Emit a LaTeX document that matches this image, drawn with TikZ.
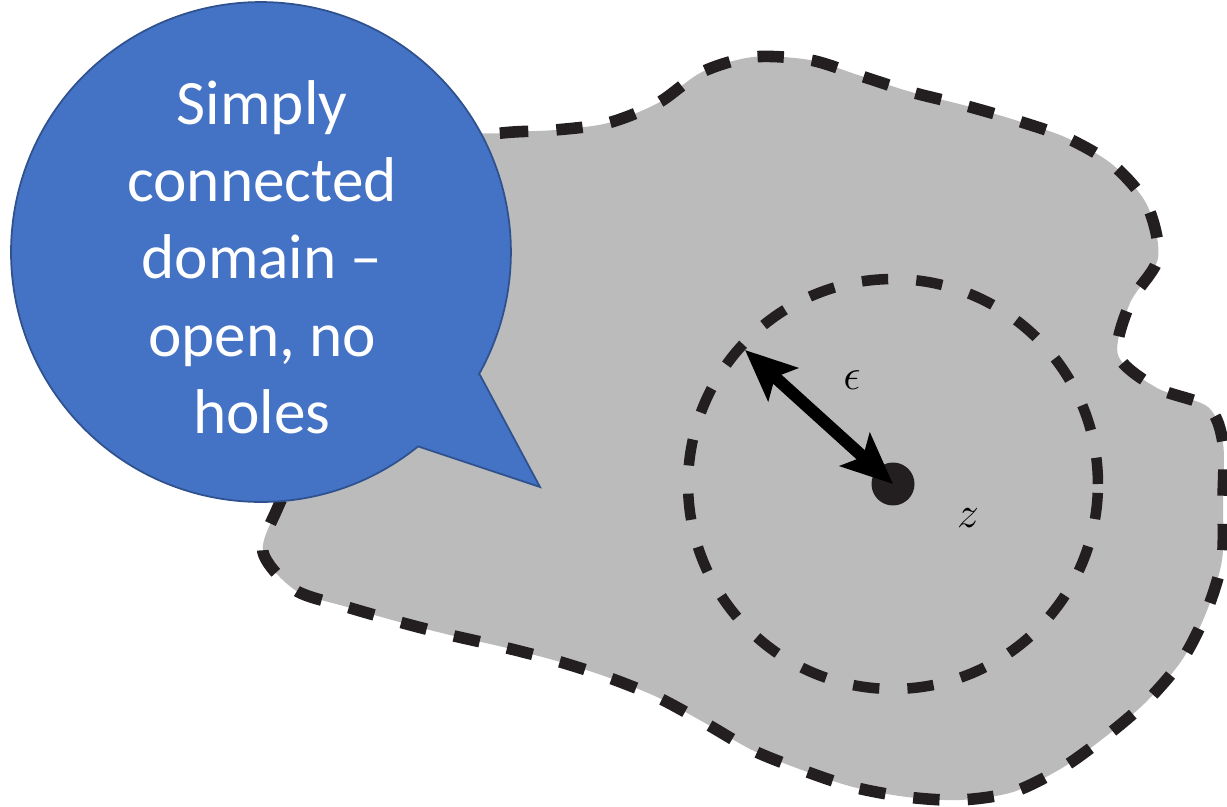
\documentclass[tikz,border=0pt]{standalone}
\usepackage{fontspec}
\newfontfamily\calibri{Carlito}
\usetikzlibrary{arrows.meta}
\definecolor{blobgrey}{RGB}{187,187,187}
\definecolor{dashblack}{RGB}{35,31,32}
\definecolor{callblue}{RGB}{68,114,196}
\definecolor{callborder}{RGB}{47,82,143}
\tikzset{
  blobline/.style={fill=blobgrey, draw=dashblack, line width=6.6pt, dash pattern=on 15pt off 16pt},
  ringline/.style={draw=dashblack, line width=6pt, dash pattern=on 15pt off 16pt},
  epsarrow/.style={draw=black, line width=7pt, {Stealth[length=29pt,width=25pt,inset=6pt]}-{Stealth[length=29pt,width=25pt,inset=6pt]}},
  pointdot/.style={circle, fill=dashblack, inner sep=0pt, minimum size=0.86cm},
  mathlabel/.style={font=\fontsize{32}{34}\selectfont},
  callshape/.style={fill=callblue, draw=callborder, line width=1pt},
  calltext/.style={text=white, align=center, font=\calibri\fontsize{36}{44}\selectfont}
}
\begin{document}
\begin{tikzpicture}[x=0.02cm, y=0.02cm]
\useasboundingbox (0,0) rectangle (1227,-807);
% domain
\draw[blobline] plot[smooth cycle, tension=0.5] coordinates {
 (420,-145) (502,-133) (555,-130) (608,-123) (658,-103) (702,-72) (753,-57)
 (810,-60) (858,-75) (911,-92) (963,-105) (1015,-120) (1067,-138) (1113,-165)
 (1147,-205) (1158,-258) (1130,-303) (1118,-355) (1157,-388) (1208,-407)
 (1223,-443) (1223,-500) (1222,-560) (1206,-613) (1182,-660) (1146,-702)
 (1105,-737) (1062,-768) (1013,-792) (960,-800) (907,-797) (853,-787)
 (802,-770) (752,-750) (705,-723) (657,-697) (607,-677) (557,-661) (503,-647)
 (450,-635) (403,-623) (347,-607) (295,-590) (263,-552) (278,-507) (310,-440)
 (380,-250)};
% point z and epsilon ball
\node[pointdot] (z) at (893,-484) {};
\draw[ringline] (z.center) circle[radius=4.1cm];
\coordinate (rim) at (745,-350);
\draw[epsarrow] (rim) -- (z.center);
\node[mathlabel] (eps) at (852,-380) {$\epsilon$};
\node[mathlabel] (zlab) at (968,-518) {$z$};
% callout
\path[callshape] (480,-375) -- (540,-487) -- (418.1,-446.4)
  arc[start angle=-51.05, end angle=-389.3, radius=5cm] -- cycle;
\node[calltext] (label) at (262,-257) {Simply\\connected\\domain –\\open, no\\holes};
\end{tikzpicture}
\end{document}
